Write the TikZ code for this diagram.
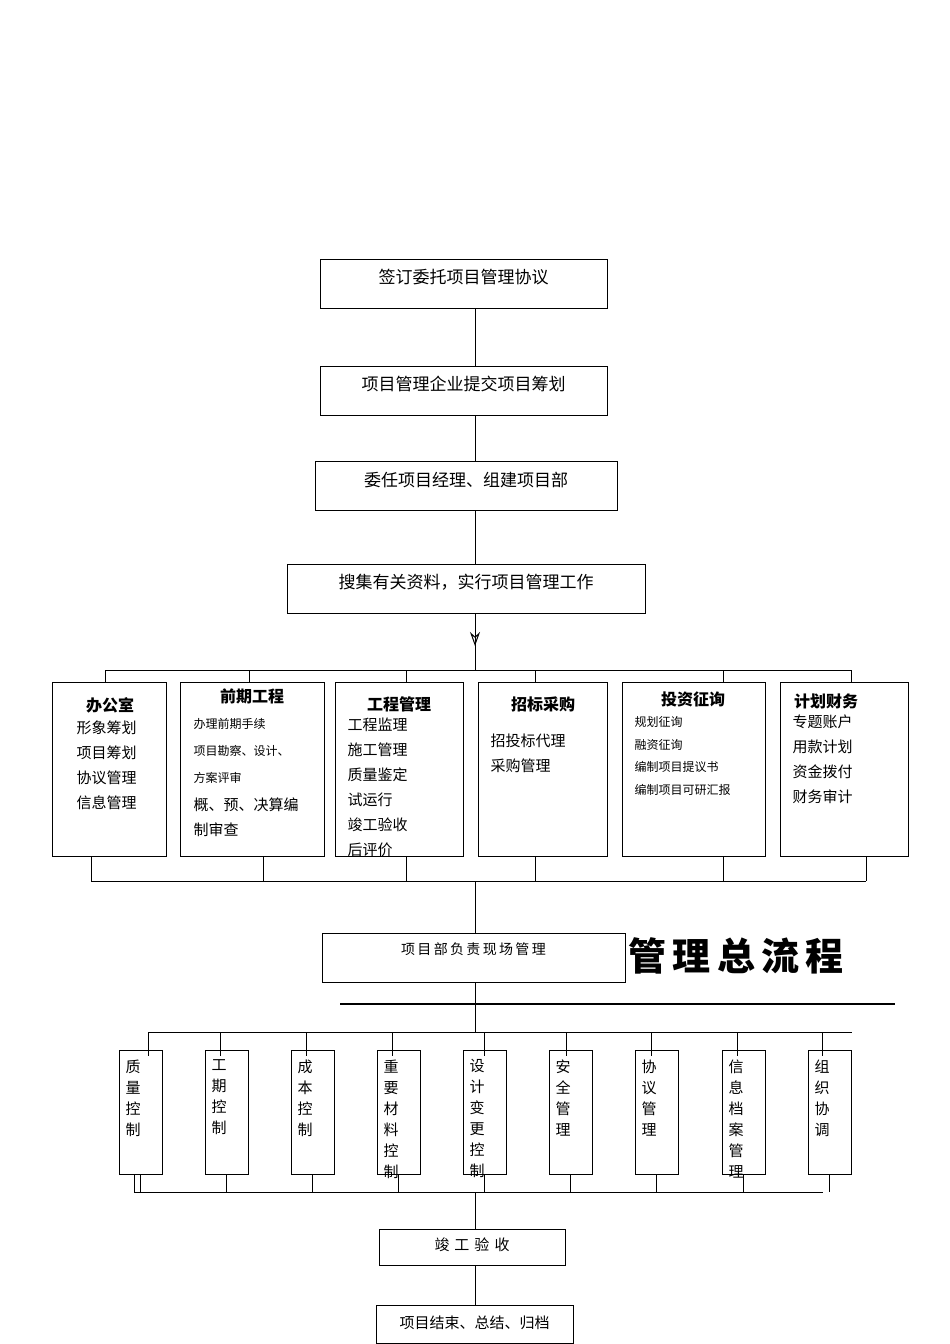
\documentclass[tikz,border=0pt]{standalone}
\usepackage{fontspec}
\setmainfont{Noto Sans CJK SC}
\usetikzlibrary{arrows.meta}
\begin{document}
\begin{tikzpicture}[x=1pt,y=-1pt,line width=1pt,
  bx/.style={draw,inner sep=0pt},
  t/.style={font=\fontsize{17}{20}\selectfont},
  it/.style={anchor=north west,inner sep=0pt,align=left,font=\fontsize{15}{25}\selectfont},
  sm/.style={anchor=north west,inner sep=0pt,align=left,font=\fontsize{12}{27}\selectfont},
  hd/.style={anchor=north,inner sep=0pt,font=\bfseries\fontsize{16}{20}\selectfont},
  vt/.style={anchor=north west,inner sep=0pt,align=left,font=\fontsize{15}{21}\selectfont}]
\useasboundingbox (0,0) rectangle (950,1344);
\node[bx,minimum width=287,minimum height=49] (b1) at (463.5,283.5) {};
\node[t] at (463.5,277) {签订委托项目管理协议};
\node[bx,minimum width=287,minimum height=49] (b2) at (463.5,390.5) {};
\node[t] at (463.5,384) {项目管理企业提交项目筹划};
\node[bx,minimum width=302,minimum height=49] (b3) at (466,485.5) {};
\node[t] at (466,480) {委任项目经理、组建项目部};
\node[bx,minimum width=358,minimum height=49] (b4) at (466,588.5) {};
\node[t] at (466,582) {搜集有关资料，实行项目管理工作};
\coordinate (c12a) at (475,308); \coordinate (c12b) at (475,366);
\draw (c12a)--(c12b);
\draw (475,415)--(475,461) (475,510)--(475,564);
\coordinate (a1) at (475,613); \coordinate (a2) at (475,646); \coordinate (a3) at (475,670);
\draw (a1)--(a3);
\draw[-{Stealth[open,length=14pt,width=10pt]}] (a1)--(a2);
% top bus
\draw (105,670)--(851,670);
\foreach \x in {105,249,406,535,723,851} \draw (\x,670)--(\x,682);
\node[bx,minimum width=114,minimum height=174] (d1) at (109,769) {};
\node[bx,minimum width=144,minimum height=174] (d2) at (252,769) {};
\node[bx,minimum width=128,minimum height=174] (d3) at (399,769) {};
\node[bx,minimum width=129,minimum height=174] (d4) at (542.5,769) {};
\node[bx,minimum width=143,minimum height=174] (d5) at (693.5,769) {};
\node[bx,minimum width=128,minimum height=174] (d6) at (844,769) {};
\node[hd] at (110,697) {办公室};
\node[it] at (76,720) {形象筹划\\项目筹划\\协议管理\\信息管理};
\node[hd] at (252,688) {前期工程};
\node[sm] at (193,718) {办理前期手续\\项目勘察、设计、\\方案评审};
\node[it] at (193,797) {概、预、决算编\\制审查};
\node[hd] at (399,696) {工程管理};
\node[it] at (347,717) {工程监理\\施工管理\\质量鉴定\\试运行\\竣工验收\\后评价};
\node[hd] at (543,696) {招标采购};
\node[it] at (490,733) {招投标代理\\采购管理};
\node[hd] at (693,691) {投资征询};
\node[anchor=north west,inner sep=0pt,align=left,font=\fontsize{12}{22.5}\selectfont] at (634,716) {规划征询\\融资征询\\编制项目提议书\\编制项目可研汇报};
\node[hd] at (826,693) {计划财务};
\node[it] at (792,714) {专题账户\\用款计划\\资金拨付\\财务审计};
% bottom bus
\draw (91,881)--(866,881);
\foreach \x in {91,263,406,535,723,866} \draw (\x,856)--(\x,881);
\draw (475,881)--(475,933);
\node[bx,minimum width=303,minimum height=49] (p) at (473.5,957.5) {};
\node[font=\fontsize{14}{16}\selectfont] at (473.5,949) {项\,目\,部\,负\,责\,现\,场\,管\,理};
\node[font=\bfseries\fontsize{38}{40}\selectfont,anchor=west,inner sep=0pt] (title) at (628,956) {管\,理\,总\,流\,程};
\draw (475,982)--(475,1032);
\draw[line width=1.3pt] (340,1004)--(895,1004);
\draw (148,1032)--(852,1032);
\foreach \x/\s [count=\i] in {119/{质\\量\\控\\制},205/{工\\期\\控\\制},291/{成\\本\\控\\制},377/{重\\要\\材\\料\\控\\制},463/{设\\计\\变\\更\\控\\制},549/{安\\全\\管\\理},635/{协\\议\\管\\理},722/{信\\息\\档\\案\\管\\理},808/{组\\织\\协\\调}}{
  \node[bx,minimum width=43,minimum height=124,anchor=north west] (e\i) at (\x,1050) {};
  \node[vt] at (\x+6,1059) {\s};
  \draw (\x+21.5,1174)--(\x+21.5,1192);
}
\foreach \x in {148,220,306,392,484,566,651,737,822} \draw (\x,1032)--(\x,1056);
\draw (134,1192)--(823,1192);
\draw (134,1174)--(134,1192);
\draw (475,1192)--(475,1229);
\node[bx,minimum width=186,minimum height=36] (f) at (472,1247) {};
\node[font=\fontsize{15}{16}\selectfont] at (472,1245) {竣\,\,工\,\,验\,\,收};
\draw (475,1265)--(475,1305);
\node[bx,minimum width=197,minimum height=38] (g) at (474.5,1324) {};
\node[font=\fontsize{15}{16}\selectfont] at (474.5,1323) {项目结束、总结、归档};
\end{tikzpicture}
\end{document}
